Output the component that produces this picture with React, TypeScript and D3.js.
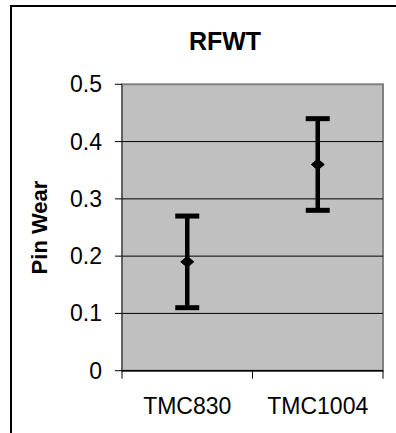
import React from "react";
import * as d3 from "d3";

const categories = ["TMC830", "TMC1004"];
const means = [0.19, 0.36];
const errors = [0.08, 0.08];
const yTicks = [0, 0.1, 0.2, 0.3, 0.4, 0.5];
const title = "RFWT";
const yTitle = "Pin Wear";

const W = 396;
const H = 433;
const plot = { left: 122, right: 383, top: 84.3, bottom: 370.7 };
const font = "'Liberation Sans', Arial, sans-serif";

export default function App() {
  const x = d3.scaleBand<string>().domain(categories).range([plot.left, plot.right]);
  const y = d3.scaleLinear().domain([0, 0.5]).range([plot.bottom, plot.top]);
  const fmt = (v: number) => (v === 0 ? "0" : d3.format(".1f")(v));
  const xTickPos = [plot.left, ...categories.map((c) => (x(c) as number) + x.bandwidth())];
  const capHalf = 12;
  const dHalfW = 6.5;
  const dHalfH = 5.5;

  return (
    <svg
      width={W}
      height={H}
      style={{ position: "absolute", left: 0, top: 0, background: "#fff" }}
      fontFamily={font}
    >
      <rect x={11} y={6} width={W + 20} height={H + 20} fill="#fff" stroke="#000" strokeWidth={2} />

      <rect
        x={plot.left}
        y={plot.top}
        width={plot.right - plot.left}
        height={plot.bottom - plot.top}
        fill="#C0C0C0"
        stroke="#808080"
        strokeWidth={2}
      />

      {yTicks
        .filter((t) => t > 0 && t < 0.5)
        .map((t) => (
          <line key={"g" + t} x1={plot.left} x2={plot.right} y1={y(t)} y2={y(t)} stroke="#000" strokeWidth={1} />
        ))}

      <line x1={plot.left} x2={plot.left} y1={plot.top} y2={plot.bottom} stroke="#404040" strokeWidth={1} />
      {yTicks.map((t) => (
        <g key={"t" + t}>
          <line x1={plot.left - 7} x2={plot.left} y1={y(t)} y2={y(t)} stroke="#000" strokeWidth={1} />
          <text x={102} y={y(t) + 8} textAnchor="end" fontSize={23} fill="#000">
            {fmt(t)}
          </text>
        </g>
      ))}

      <line x1={plot.left} x2={plot.right} y1={plot.bottom} y2={plot.bottom} stroke="#000" strokeWidth={1.5} />
      {xTickPos.map((p, i) => (
        <line key={"xt" + i} x1={p} x2={p} y1={plot.bottom} y2={plot.bottom + 8} stroke="#000" strokeWidth={1} />
      ))}
      {categories.map((c) => (
        <text
          key={"xl" + c}
          x={(x(c) as number) + x.bandwidth() / 2}
          y={414}
          textAnchor="middle"
          fontSize={23}
          fill="#000"
        >
          {c}
        </text>
      ))}

      {categories.map((c, i) => {
        const cx = (x(c) as number) + x.bandwidth() / 2;
        const cy = y(means[i]);
        const hi = y(means[i] + errors[i]);
        const lo = y(means[i] - errors[i]);
        return (
          <g key={"e" + c}>
            <line x1={cx} x2={cx} y1={hi} y2={lo} stroke="#000" strokeWidth={4.5} />
            <line x1={cx - capHalf} x2={cx + capHalf} y1={hi} y2={hi} stroke="#000" strokeWidth={5} />
            <line x1={cx - capHalf} x2={cx + capHalf} y1={lo} y2={lo} stroke="#000" strokeWidth={5} />
            <path
              d={`M${cx},${cy - dHalfH} L${cx + dHalfW},${cy} L${cx},${cy + dHalfH} L${cx - dHalfW},${cy} Z`}
              fill="#000"
              stroke="#000"
              strokeWidth={1}
            />
          </g>
        );
      })}

      <text x={225} y={50} textAnchor="middle" fontSize={25} fontWeight="bold" fill="#000">
        {title}
      </text>
      <text
        transform={`translate(47,${(plot.top + plot.bottom) / 2}) rotate(-90)`}
        textAnchor="middle"
        fontSize={22}
        fontWeight="bold"
        fill="#000"
      >
        {yTitle}
      </text>
    </svg>
  );
}
